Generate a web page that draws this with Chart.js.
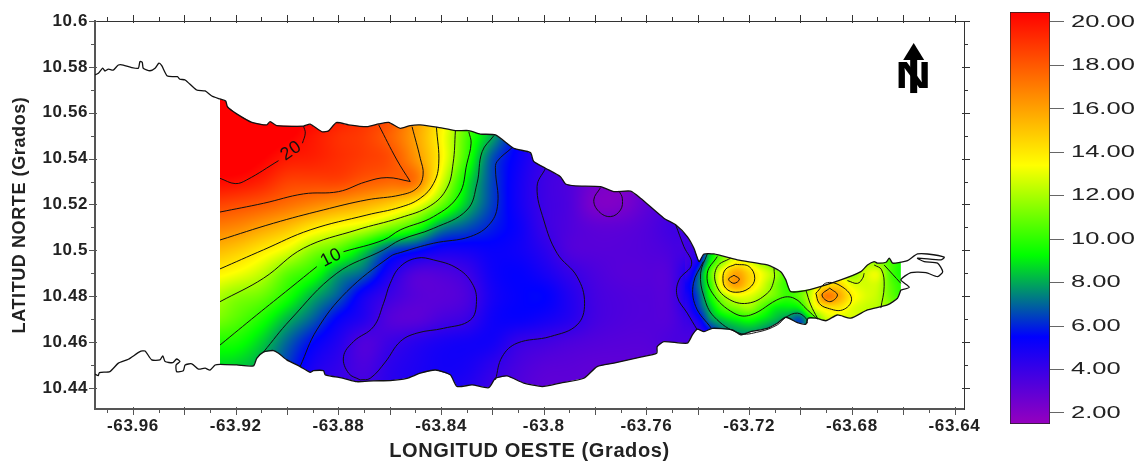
<!DOCTYPE html>
<html>
<head>
<meta charset="utf-8">
<title>Mapa de contornos</title>
<script src="https://cdn.jsdelivr.net/npm/chart.js@4"></script>
<style>
  html, body { margin: 0; background: #fff; }
  canvas { position: absolute; top: 0; }
  #mapa { left: 0; }
  #barra { left: 1000px; }
</style>
</head>
<body>
<canvas id="mapa" width="1000" height="464"></canvas>
<canvas id="barra" width="140" height="464"></canvas>
<script>
// Ejes
const lonRange = [-63.9748, -63.6363];
const latRange = [10.4308, 10.6];
const lonLabels = [-63.96, -63.92, -63.88, -63.84, -63.8, -63.76, -63.72, -63.68, -63.64];
const latLabels = [10.44, 10.46, 10.48, 10.5, 10.52, 10.54, 10.56, 10.58, 10.6];
const colorTicks = [2, 4, 6, 8, 10, 12, 14, 16, 18, 20];
const colorRange = [1.49, 20.46];

// Escala de color: [valor, r, g, b]
const colorStops = [[1.49, 150, 0, 190], [5.5, 0, 0, 255], [9.27, 0, 255, 0], [13.4, 255, 255, 0], [20.46, 255, 0, 0]];

// Campo, malla gruesa (oeste)
const gridLon0 = -63.93, gridStep = 0.01, gridLat0 = 10.57;
const grid = [
  [21, 21, 21, 21, 21, 20.5, 20, 19.5, 17.5, 15, 12, 9, 6, 5, 4.5, 4, 3.5, 3.5, 3.5, 4, 4],
  [21, 21, 21, 21, 20.6, 20, 19.3, 18.6, 16.5, 14.2, 11.2, 8.5, 5.8, 5, 4.4, 3.8, 3.3, 3.3, 3.5, 4, 4],
  [21, 21, 21, 20.6, 19.9, 19.2, 18.8, 17.8, 16, 13.6, 10.5, 8, 5.5, 4.8, 4.2, 3.6, 3.2, 3.2, 3.5, 4, 4],
  [20.9, 21, 20.5, 19.8, 19.6, 19.2, 18.8, 18.3, 16.4, 13.7, 10.1, 6.7, 5.2, 4.1, 3.7, 3.2, 2.8, 3, 3.5, 4, 4],
  [20.2, 20.1, 19.6, 18.7, 18.6, 18.6, 18, 17.6, 17.2, 12.9, 9.1, 6.5, 5, 3.9, 3.4, 2.5, 2.2, 2.8, 3.5, 4, 4],
  [18.7, 18.4, 18, 17.4, 16.8, 16.2, 15.6, 14.8, 13.5, 11, 8.4, 6.4, 5, 3.9, 3.4, 2.2, 2.2, 3, 3.6, 4, 4],
  [17, 16.7, 16, 15.2, 14.1, 13.3, 12.6, 11.3, 9.9, 7.6, 6.7, 5.9, 5.2, 4, 3.4, 3, 3, 3.3, 3.8, 4, 5],
  [15.4, 14.9, 14, 13, 11.5, 10.5, 8.7, 6.6, 5.8, 5, 5, 5.3, 5.1, 4.4, 3.4, 3.2, 3.2, 3.3, 3.6, 4.6, 11],
  [13.8, 13.3, 12.4, 10.8, 9.8, 7.9, 6.9, 4.8, 3.4, 3.4, 3.9, 5.1, 5.4, 4.9, 4.1, 3.5, 3.2, 3.2, 3.5, 6.6, 13.9],
  [12.3, 11.5, 11, 9.7, 8.1, 6.8, 5, 3.9, 3.2, 3.1, 3.5, 4.9, 5.4, 5.5, 4.6, 3.7, 3.4, 3.3, 3.5, 6.6, 11.5],
  [11.4, 10.7, 9.7, 8.2, 6.9, 5.4, 4.5, 3.3, 3.1, 3.6, 4, 5.1, 5.3, 5, 4.5, 3.7, 3.4, 3.3, 3.4, 5, 8.6],
  [9.7, 9.6, 8.6, 7, 5.6, 4.6, 3.4, 3.9, 4.4, 4.8, 5, 5, 4.1, 3.8, 3.5, 3.3, 3.2, 3.2, 3.5, 3.8, 6.5],
  [8.8, 8.6, 7.9, 6.4, 4.9, 4.2, 3.5, 4.3, 4.7, 5, 4.9, 4.3, 3.6, 3.2, 3.1, 3, 3, 3, 3.2, 3.5, 6],
  [8.2, 8, 7.4, 6, 4.5, 4, 3.8, 4.4, 4.7, 4.8, 4.6, 3.9, 3.4, 3, 3, 3, 3, 3, 3, 3.5, 6]
];

// Malla fina para la parte este
const fineLon0 = -63.745, fineStep = 0.005, fineLat0 = 10.505;
const fineGrid = [
  [3.8, 4.3, 7.5, 10, 11.5, 11.5, 11, 10, 10, 10, 10, 10.5, 11, 11, 11, 10.5, 10, 9],
  [3.8, 4.5, 8.5, 11, 12.5, 12.5, 11.5, 10.5, 10, 10, 10, 11, 12, 12, 12, 11, 10, 9],
  [3.7, 5.2, 9.3, 11.8, 13.5, 13, 11.8, 10.5, 9.5, 9.5, 10, 11.5, 12.5, 12.5, 12, 11.5, 10.5, 9.5],
  [4, 6.6, 10.7, 13.9, 15.9, 14.6, 13.2, 11.9, 10, 10, 11, 13, 13, 11.5, 12.6, 13, 10.5, 9.5],
  [5, 7, 10.1, 14.2, 16.1, 14.5, 12.9, 11.3, 10, 10, 12.3, 14.1, 14.5, 13, 12.7, 12.6, 10.8, 9.8],
  [4.7, 6.6, 9.5, 11.9, 13.1, 12.9, 12, 11, 10.1, 11, 13.2, 17, 15.8, 13.8, 12.9, 12.4, 11, 10],
  [4.2, 6.2, 8.5, 10.5, 11.3, 11.8, 10.5, 9.2, 9, 9.4, 12.7, 14, 14.1, 13, 12.5, 12.2, 11.5, 10.5],
  [3.9, 5, 7.6, 8.6, 9.2, 9.6, 9, 8.3, 7.6, 6.8, 10, 12.5, 12.5, 12.6, 12.4, 12, 11, 10.5],
  [3.7, 4, 5.8, 7.2, 7.8, 8, 7.7, 7, 6.5, 6.5, 10, 11, 11, 11, 11, 11, 10.5, 10],
  [3.5, 3.8, 5, 6.5, 7, 7, 7, 6.5, 6.5, 6.5, 9, 10, 10, 10, 10, 10, 10, 10]
];

// Linea de costa [lon, lat]
const coastWestN = [[-63.9748,10.5765],[-63.9735,10.5772],[-63.9718,10.5794],[-63.9709,10.5782],[-63.9696,10.579],[-63.9677,10.5786],[-63.9657,10.5808],[-63.9638,10.5808],[-63.9605,10.5797],[-63.9579,10.5794],[-63.9573,10.5823],[-63.9564,10.582],[-63.956,10.5794],[-63.9534,10.5783],[-63.9514,10.5794],[-63.9499,10.5816],[-63.9488,10.5805],[-63.9466,10.576],[-63.9427,10.5757],[-63.9417,10.5746],[-63.9397,10.5743],[-63.9352,10.5699],[-63.9319,10.5695],[-63.9293,10.5673]];
const coastNorth = [[-63.9261,10.566],[-63.9239,10.5651],[-63.9232,10.5626],[-63.9196,10.5595],[-63.9137,10.5558],[-63.9079,10.5547],[-63.9066,10.5561],[-63.904,10.5544],[-63.8936,10.5542],[-63.891,10.555],[-63.8864,10.5517],[-63.8838,10.5521],[-63.8808,10.5557],[-63.876,10.5547],[-63.8689,10.5539],[-63.8643,10.5551],[-63.8604,10.5558],[-63.8559,10.5532],[-63.852,10.5544],[-63.8481,10.5547],[-63.8416,10.5537],[-63.8344,10.5522],[-63.8292,10.5522],[-63.8247,10.5507],[-63.8188,10.5503],[-63.8117,10.5445],[-63.8052,10.5426],[-63.8039,10.5387],[-63.7993,10.5358],[-63.7935,10.5321],[-63.7915,10.5289],[-63.7876,10.5281],[-63.7779,10.5278],[-63.7727,10.5256],[-63.7662,10.5258],[-63.7623,10.5227],[-63.7532,10.514],[-63.7486,10.5111],[-63.7441,10.506],[-63.7415,10.5009],[-63.7395,10.4951],[-63.7376,10.4984],[-63.7337,10.4984],[-63.7246,10.4958],[-63.7129,10.4936],[-63.7077,10.4907],[-63.7057,10.4871],[-63.7038,10.482],[-63.696,10.483],[-63.6843,10.4871],[-63.6765,10.4907],[-63.6739,10.4936],[-63.6713,10.4951],[-63.67,10.4944],[-63.6667,10.4948],[-63.6654,10.4966],[-63.6641,10.4944],[-63.6609,10.4948]];
const coastIslet = [[-63.6609,10.4948],[-63.6583,10.4955],[-63.6544,10.4984],[-63.6505,10.4984],[-63.644,10.497],[-63.6453,10.4958],[-63.6544,10.4966],[-63.6518,10.4951],[-63.6466,10.4944],[-63.6446,10.4907],[-63.6466,10.4885],[-63.6511,10.4903],[-63.657,10.4903],[-63.6609,10.4871],[-63.6576,10.4839],[-63.6609,10.4827]];
const coastSouth = [[-63.6609,10.4827],[-63.6622,10.4791],[-63.6661,10.4762],[-63.6739,10.474],[-63.6804,10.4704],[-63.6856,10.4718],[-63.6901,10.4693],[-63.694,10.4704],[-63.697,10.4704],[-63.6979,10.4678],[-63.7012,10.4685],[-63.7057,10.4708],[-63.709,10.4682],[-63.7129,10.466],[-63.7194,10.4645],[-63.7233,10.4631],[-63.7265,10.4653],[-63.7343,10.466],[-63.7376,10.4645],[-63.7402,10.4656],[-63.7421,10.4631],[-63.7441,10.4595],[-63.7532,10.4602],[-63.7558,10.458],[-63.756,10.4551],[-63.7623,10.4534],[-63.7727,10.4508],[-63.7792,10.4493],[-63.7844,10.4442],[-63.7935,10.4421],[-63.8006,10.4406],[-63.8078,10.4421],[-63.8143,10.4452],[-63.8188,10.4442],[-63.8214,10.4401],[-63.8279,10.4413],[-63.8338,10.4406],[-63.8364,10.4457],[-63.8422,10.4478],[-63.8481,10.4464],[-63.8533,10.4442],[-63.8598,10.4432],[-63.8663,10.4431],[-63.8728,10.4427],[-63.878,10.4442],[-63.8851,10.4457],[-63.8858,10.4475],[-63.8897,10.4475],[-63.891,10.4468],[-63.8949,10.4493],[-63.9001,10.4522],[-63.9033,10.4551],[-63.9053,10.4563],[-63.9092,10.4556],[-63.9118,10.4529],[-63.9131,10.4496],[-63.9196,10.45],[-63.9261,10.4503]];
const coastWestS = [[-63.928,10.45],[-63.93,10.4478],[-63.9319,10.4486],[-63.9345,10.4482],[-63.9371,10.4505],[-63.9397,10.45],[-63.9404,10.4475],[-63.943,10.4471],[-63.9432,10.45],[-63.9417,10.4515],[-63.943,10.4526],[-63.9445,10.451],[-63.9475,10.4515],[-63.9484,10.454],[-63.9495,10.4522],[-63.9527,10.4522],[-63.9553,10.4561],[-63.9573,10.4558],[-63.9618,10.4525],[-63.9657,10.4508],[-63.969,10.4471],[-63.9731,10.4467],[-63.9735,10.4454],[-63.9748,10.446]];

// Isolineas, una lista por tramo
const iso20a = [[-63.9261,10.5314],[-63.9202,10.5291],[-63.9157,10.5307],[-63.9033,10.5391]];
const iso20b = [[-63.894,10.5467],[-63.8929,10.5511],[-63.8936,10.5542]];
const iso18a = [[-63.9261,10.5167],[-63.9092,10.5205],[-63.8936,10.5246],[-63.8799,10.5256],[-63.8695,10.5298],[-63.8611,10.5317],[-63.852,10.53]];
const iso18b = [[-63.852,10.53],[-63.8572,10.5394],[-63.8643,10.5547]];
const iso16 = [[-63.9261,10.5045],[-63.9053,10.5118],[-63.8859,10.5176],[-63.8689,10.522],[-63.8559,10.5241],[-63.8494,10.5271],[-63.847,10.5329],[-63.8481,10.5401],[-63.8513,10.5539]];
const iso14 = [[-63.9261,10.4919],[-63.9092,10.5002],[-63.891,10.5089],[-63.8689,10.5154],[-63.8559,10.5188],[-63.8481,10.5227],[-63.8429,10.5292],[-63.8409,10.538],[-63.8418,10.5537]];
const iso12 = [[-63.9261,10.4776],[-63.9092,10.4878],[-63.8936,10.5009],[-63.8728,10.5089],[-63.8559,10.5142],[-63.8442,10.5194],[-63.8377,10.5271],[-63.8353,10.538],[-63.8344,10.5522]];
const iso10a = [[-63.9261,10.4587],[-63.9118,10.4718],[-63.8988,10.4835],[-63.8884,10.4929]];
const iso10b = [[-63.878,10.4994],[-63.8624,10.5045],[-63.8559,10.5089],[-63.8429,10.5147],[-63.8331,10.5241],[-63.8299,10.538],[-63.8283,10.5467],[-63.8292,10.5517]];
const iso8 = [[-63.9092,10.4556],[-63.8988,10.4696],[-63.8806,10.49],[-63.8624,10.5002],[-63.8559,10.5045],[-63.8429,10.5096],[-63.8299,10.5176],[-63.826,10.5292],[-63.824,10.543],[-63.8195,10.5499]];
const iso6 = [[-63.8949,10.4493],[-63.8884,10.4653],[-63.8767,10.482],[-63.8598,10.4973],[-63.8559,10.499],[-63.8429,10.5031],[-63.8286,10.506],[-63.8208,10.5118],[-63.8179,10.5205],[-63.8188,10.535],[-63.8182,10.5387],[-63.8123,10.5448]];
const iso4Blob = [[-63.8715,10.4435],[-63.876,10.4464],[-63.878,10.4536],[-63.8741,10.4602],[-63.8663,10.4667],[-63.8624,10.4769],[-63.8598,10.4856],[-63.8559,10.4929],[-63.8494,10.4966],[-63.8429,10.4958],[-63.8338,10.4922],[-63.8279,10.4856],[-63.8262,10.4776],[-63.8286,10.4696],[-63.839,10.466],[-63.8494,10.4639],[-63.8559,10.4602],[-63.8617,10.4513],[-63.8676,10.4442],[-63.8715,10.4435]];
const iso4Mid = [[-63.7993,10.5358],[-63.8026,10.5278],[-63.8,10.5132],[-63.7948,10.4987],[-63.787,10.4885],[-63.7841,10.4769],[-63.787,10.4675],[-63.7974,10.4624],[-63.8104,10.4595],[-63.8162,10.4536],[-63.8188,10.4435]];
const iso4East = [[-63.7486,10.5111],[-63.7454,10.5016],[-63.7424,10.4939],[-63.7473,10.4871],[-63.748,10.4798],[-63.7441,10.4726],[-63.7402,10.4653]];
const iso2Spot = [[-63.7779,10.5273],[-63.7805,10.522],[-63.7785,10.5169],[-63.774,10.5147],[-63.7701,10.5176],[-63.7694,10.5227],[-63.7707,10.5259]];
const iso6E = [[-63.7378,10.4951],[-63.7417,10.4856],[-63.7408,10.4755],[-63.7347,10.466]];
const iso8E = [[-63.7363,10.4984],[-63.7389,10.49],[-63.7376,10.4798],[-63.7337,10.4711],[-63.7239,10.4639],[-63.7161,10.4645],[-63.709,10.4675],[-63.7057,10.4708],[-63.7012,10.4726],[-63.6979,10.4704],[-63.6973,10.4682]];
const iso10E = [[-63.7324,10.4973],[-63.7363,10.49],[-63.7343,10.4813],[-63.7259,10.4726],[-63.7194,10.4718],[-63.7077,10.4791],[-63.7025,10.4791],[-63.6973,10.474],[-63.6934,10.47]];
const iso12E = [[-63.7272,10.4966],[-63.7324,10.4929],[-63.733,10.4856],[-63.7285,10.4791],[-63.7207,10.4769],[-63.7129,10.4813],[-63.7103,10.4871],[-63.7103,10.4922]];
const iso14P1 = [[-63.7252,10.4939],[-63.72,10.4929],[-63.7178,10.4878],[-63.72,10.4835],[-63.7252,10.4817],[-63.7291,10.4835],[-63.7302,10.4878],[-63.7291,10.4918],[-63.7252,10.4939]];
const iso16P1 = [[-63.7259,10.4891],[-63.7238,10.4874],[-63.7259,10.4856],[-63.728,10.4874],[-63.7259,10.4891]];
const iso12P2 = [[-63.6979,10.4827],[-63.696,10.4762],[-63.6934,10.4704]];
const iso14P2 = [[-63.694,10.4813],[-63.6895,10.4859],[-63.683,10.4835],[-63.6801,10.4784],[-63.6836,10.474],[-63.6895,10.4748],[-63.6927,10.4769],[-63.694,10.4813]];
const iso16P2 = [[-63.6886,10.4835],[-63.6856,10.4805],[-63.6886,10.4776],[-63.6916,10.4805],[-63.6886,10.4835]];
const iso12Arc = [[-63.6817,10.4868],[-63.6778,10.4856],[-63.6758,10.4878],[-63.6752,10.49]];
const iso12Far = [[-63.6713,10.4936],[-63.6684,10.4915],[-63.6674,10.4842],[-63.6687,10.4748]];
const iso10Far = [[-63.6674,10.4936],[-63.6609,10.4856]];

const contours = [iso20a, iso20b, iso18a, iso18b, iso16, iso14, iso12, iso10a, iso10b, iso8, iso6, iso4Blob, iso4Mid, iso4East, iso2Spot,
  iso6E, iso8E, iso10E, iso12E, iso14P1, iso16P1, iso12P2, iso14P2, iso16P2, iso12Arc, iso12Far, iso10Far];
const coasts = [coastWestN.concat(coastNorth), coastIslet, coastSouth.concat(coastWestS)];

const contourLabels = [
  { text: '20', lon: -63.8984, lat: 10.5433, angle: -0.6 },
  { text: '10', lon: -63.8828, lat: 10.4967, angle: -0.47 }
];
const northMark = { lon: -63.6559, lat: 10.576 };

function toPoints(list) { return list.map(p => ({ x: p[0], y: p[1] })); }

function colorFor(v) {
  if (v <= colorStops[0][0]) return colorStops[0].slice(1);
  for (let i = 1; i < colorStops.length; i++) {
    const a = colorStops[i - 1], b = colorStops[i];
    if (v <= b[0]) {
      const t = (v - a[0]) / (b[0] - a[0]);
      return [a[1] + (b[1] - a[1]) * t, a[2] + (b[2] - a[2]) * t, a[3] + (b[3] - a[3]) * t];
    }
  }
  return colorStops[colorStops.length - 1].slice(1);
}

function cubic(p0, p1, p2, p3, t) {
  return p1 + 0.5 * t * (p2 - p0 + t * (2 * p0 - 5 * p1 + 4 * p2 - p3 + t * (3 * (p1 - p2) + p3 - p0)));
}

function sampleGrid(g, lon0, lat0, step, lon, lat) {
  const gx = (lon - lon0) / step, gy = (lat0 - lat) / step;
  const ix = Math.floor(gx), iy = Math.floor(gy);
  const rows = g.length, cols = g[0].length;
  const col = i => Math.max(0, Math.min(cols - 1, i));
  const row = i => g[Math.max(0, Math.min(rows - 1, i))];
  const vals = [];
  for (let j = -1; j <= 2; j++) {
    const r = row(iy + j);
    vals.push(cubic(r[col(ix - 1)], r[col(ix)], r[col(ix + 1)], r[col(ix + 2)], gx - ix));
  }
  return cubic(vals[0], vals[1], vals[2], vals[3], gy - iy);
}

function fieldAt(lon, lat) {
  if (lon >= fineLon0 && lat <= fineLat0 && lat >= fineLat0 - fineStep * (fineGrid.length - 1)) {
    return sampleGrid(fineGrid, fineLon0, fineLat0, fineStep, lon, lat);
  }
  return sampleGrid(grid, gridLon0, gridLat0, gridStep, lon, lat);
}

// Dibuja el campo de color recortado a la costa
const fieldPlugin = {
  id: 'field',
  beforeDraw(chart) {
    chart.ctx.letterSpacing = '0.6px';
  },
  beforeDatasetsDraw(chart) {
    const { ctx, chartArea: a, scales: { x, y } } = chart;
    const w = Math.round(a.right - a.left), h = Math.round(a.bottom - a.top);
    const off = document.createElement('canvas');
    off.width = w; off.height = h;
    const octx = off.getContext('2d');
    const img = octx.createImageData(w, h);
    for (let j = 0; j < h; j++) {
      const lat = y.getValueForPixel(a.top + j + 0.5);
      if (lat > 10.57 || lat < 10.435) continue;
      for (let i = 0; i < w; i++) {
        const lon = x.getValueForPixel(a.left + i + 0.5);
        if (lon < -63.93 || lon > -63.655) continue;
        const c = colorFor(fieldAt(lon, lat));
        const k = (j * w + i) * 4;
        img.data[k] = c[0]; img.data[k + 1] = c[1]; img.data[k + 2] = c[2]; img.data[k + 3] = 255;
      }
    }
    octx.putImageData(img, 0, 0);
    ctx.save();
    ctx.beginPath();
    coastNorth.concat(coastSouth).forEach((p, i) => {
      const px = x.getPixelForValue(p[0]), py = y.getPixelForValue(p[1]);
      if (i === 0) ctx.moveTo(px, py); else ctx.lineTo(px, py);
    });
    ctx.closePath();
    ctx.clip();
    ctx.drawImage(off, a.left, a.top);
    ctx.restore();
  }
};

// Marcas de los cuatro ejes, etiquetas de isolineas y norte
const marksPlugin = {
  id: 'marks',
  afterDraw(chart) {
    const { ctx, chartArea: a, scales } = chart;
    const isMajor = v => Math.round(Math.abs(v) * 100) % 2 === 0;
    ctx.save();
    ctx.lineWidth = 1;
    [['x', '#555', 0, 1], ['x2', '#333', 0, -1], ['y', '#555', 1, -1], ['y2', '#333', 1, 1]].forEach(([id, color, vert, dir]) => {
      const s = scales[id];
      ctx.strokeStyle = color;
      s.ticks.forEach(t => {
        const p = Math.round(s.getPixelForValue(t.value)) + 0.5;
        const out = isMajor(t.value) ? 6 : 4, inner = isMajor(t.value) ? 2 : 0;
        ctx.beginPath();
        if (vert) {
          const e = id === 'y' ? a.left : a.right;
          ctx.moveTo(e - dir * inner, p); ctx.lineTo(e + dir * out, p);
        } else {
          const e = id === 'x' ? a.bottom : a.top;
          ctx.moveTo(p, e - dir * inner); ctx.lineTo(p, e + dir * out);
        }
        ctx.stroke();
      });
    });

    ctx.fillStyle = '#111';
    ctx.font = '18px "Liberation Sans"';
    ctx.textAlign = 'center';
    ctx.textBaseline = 'middle';
    contourLabels.forEach(l => {
      ctx.save();
      ctx.translate(scales.x.getPixelForValue(l.lon), scales.y.getPixelForValue(l.lat));
      ctx.rotate(l.angle);
      ctx.fillText(l.text, 0, 0);
      ctx.restore();
    });

    const cx = scales.x.getPixelForValue(northMark.lon), cy = scales.y.getPixelForValue(northMark.lat);
    ctx.fillStyle = '#000';
    ctx.save();
    ctx.translate(cx, cy + 2);
    ctx.scale(1.38, 1);
    ctx.font = 'bold 36px "Liberation Sans"';
    ctx.fillText('N', 0, 0);
    ctx.restore();
    ctx.fillRect(cx - 3.5, cy - 18, 7, 35);
    ctx.beginPath();
    ctx.moveTo(cx, cy - 33); ctx.lineTo(cx - 10.5, cy - 16); ctx.lineTo(cx + 10.5, cy - 16);
    ctx.closePath();
    ctx.fill();
    ctx.restore();
  }
};

const axisFont = { family: '"Liberation Sans", Arial, sans-serif', size: 17, weight: 'bold' };

function hiddenAxis(axis, position, range, side) {
  return {
    type: 'linear', axis: axis, position: position, display: true,
    min: range[0], max: range[1],
    border: { color: '#333', width: 1 },
    grid: { drawOnChartArea: false, drawTicks: false },
    ticks: { display: false, stepSize: 0.01, includeBounds: false, autoSkip: false },
    afterFit: s => { if (axis === 'x') s.height = side; else s.width = side; }
  };
}

new Chart(document.getElementById('mapa'), {
  type: 'scatter',
  data: {
    datasets: contours.map(c => ({ data: toPoints(c), showLine: true, pointRadius: 0, borderColor: '#111', borderWidth: 1, tension: 0.4, xAxisID: 'x', yAxisID: 'y' }))
      .concat(coasts.map(c => ({ data: toPoints(c), showLine: true, pointRadius: 0, borderColor: '#111', borderWidth: 1.3, tension: 0.2, xAxisID: 'x', yAxisID: 'y' })))
  },
  options: {
    responsive: false,
    animation: false,
    events: [],
    layout: { padding: 0 },
    plugins: { legend: { display: false }, tooltip: { enabled: false } },
    scales: {
      x: {
        type: 'linear', position: 'bottom', min: lonRange[0], max: lonRange[1],
        border: { color: '#555', width: 2 },
        grid: { drawOnChartArea: false, drawTicks: false },
        ticks: {
          stepSize: 0.01, includeBounds: false, autoSkip: false, maxRotation: 0, minRotation: 0, padding: 7,
          color: '#222', font: axisFont,
          callback: v => lonLabels.includes(+v.toFixed(2)) ? String(+v.toFixed(2)) : ''
        },
        title: { display: true, text: 'LONGITUD OESTE (Grados)', color: '#222', font: { family: axisFont.family, size: 20, weight: 'bold' }, padding: { top: 1, bottom: 1 } },
        afterFit: s => { s.height = 55; }
      },
      y: {
        type: 'linear', position: 'left', min: latRange[0], max: latRange[1],
        border: { color: '#555', width: 2 },
        grid: { drawOnChartArea: false, drawTicks: false },
        ticks: {
          stepSize: 0.01, includeBounds: false, autoSkip: false, padding: 7,
          color: '#222', font: axisFont,
          callback: v => latLabels.includes(+v.toFixed(2)) ? String(+v.toFixed(2)) : ''
        },
        title: { display: true, text: 'LATITUD NORTE (Grados)', color: '#222', font: { family: axisFont.family, size: 18, weight: 'bold' }, padding: { top: 9, bottom: 9 } },
        afterFit: s => { s.width = 95; }
      },
      x2: hiddenAxis('x', 'top', lonRange, 21),
      y2: hiddenAxis('y', 'right', latRange, 36)
    }
  },
  plugins: [fieldPlugin, marksPlugin]
});

// Barra de color
const colorLabelsPlugin = {
  id: 'colorLabels',
  afterDraw(chart) {
    const { ctx, scales: { y } } = chart;
    ctx.save();
    ctx.fillStyle = '#222';
    ctx.font = '17px "Liberation Sans"';
    ctx.textAlign = 'left';
    ctx.textBaseline = 'middle';
    colorTicks.forEach(v => {
      ctx.save();
      ctx.translate(71, y.getPixelForValue(v));
      ctx.scale(1.5, 1);
      ctx.fillText(v.toFixed(2), 0, 0);
      ctx.restore();
    });
    ctx.restore();
  }
};

new Chart(document.getElementById('barra'), {
  type: 'bar',
  data: {
    labels: [''],
    datasets: [{
      data: [colorRange],
      barPercentage: 1,
      categoryPercentage: 1,
      borderColor: '#222',
      borderWidth: 1,
      borderSkipped: false,
      backgroundColor: c => {
        const { chart } = c;
        if (!chart.chartArea) return '#000';
        const y = chart.scales.y;
        const y0 = y.getPixelForValue(colorRange[0]), y1 = y.getPixelForValue(colorRange[1]);
        const g = chart.ctx.createLinearGradient(0, y0, 0, y1);
        colorStops.forEach(s => {
          g.addColorStop((s[0] - colorRange[0]) / (colorRange[1] - colorRange[0]), `rgb(${s[1]},${s[2]},${s[3]})`);
        });
        return g;
      }
    }]
  },
  options: {
    responsive: false,
    animation: false,
    events: [],
    layout: { padding: { left: 10, top: 12, bottom: 40, right: 0 } },
    plugins: { legend: { display: false }, tooltip: { enabled: false } },
    scales: {
      x: { display: false },
      y: {
        position: 'right', min: colorRange[0], max: colorRange[1],
        border: { display: false },
        grid: { drawOnChartArea: false, tickLength: 14, tickColor: '#666' },
        ticks: { display: false },
        afterBuildTicks: s => { s.ticks = colorTicks.map(value => ({ value })); },
        afterFit: s => { s.width = 90; }
      }
    }
  },
  plugins: [colorLabelsPlugin]
});
</script>
</body>
</html>
